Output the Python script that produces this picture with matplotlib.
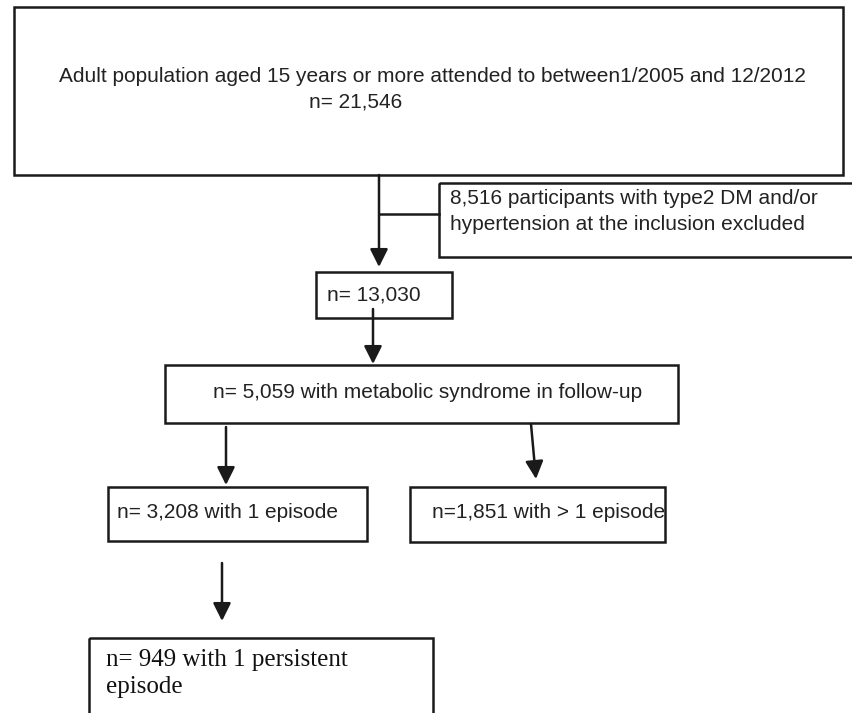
import matplotlib
matplotlib.use('Agg')
import matplotlib.pyplot as plt
from matplotlib.patches import Rectangle

# Box texts (flow of participants)
top_lines = ["Adult population aged 15 years or more attended to between1/2005 and 12/2012",
             "n= 21,546"]
excluded_lines = ["8,516 participants with type2 DM and/or",
                  "hypertension at the inclusion excluded"]
eligible_label = "n= 13,030"
metsyn_label = "n= 5,059 with metabolic syndrome in follow-up"
one_episode_label = "n= 3,208 with 1 episode"
multi_episode_label = "n=1,851 with > 1 episode"
persistent_lines = ["n= 949 with 1 persistent", "episode"]

# Layout in pixel coordinates (x0, y0, x1, y1), y grows downwards
boxes = [(14, 7, 843, 175), (439, 183, 856, 257), (316, 272, 452, 318),
         (165, 365, 678, 423), (108, 487, 367, 541), (410, 487, 665, 542),
         (89, 638, 433, 716)]
arrows = [((379, 175), (379, 267)), ((373, 309), (373, 364)),
          ((226, 427), (226, 485)), ((531, 424), (536, 479)),
          ((222, 563), (222, 621))]

W, H = 853, 713
fig = plt.figure(figsize=(W / 100, H / 100), dpi=100)
ax = fig.add_axes([0, 0, 1, 1])
ax.set_xlim(0, W)
ax.set_ylim(H, 0)
ax.axis('off')

edge = '#1a1a1a'
for x0, y0, x1, y1 in boxes:
    ax.add_patch(Rectangle((x0, y0), x1 - x0, y1 - y0, fill=False,
                           edgecolor=edge, linewidth=1.8))

for (xa, ya), (xb, yb) in arrows:
    ax.annotate('', xy=(xb, yb), xytext=(xa, ya),
                arrowprops=dict(arrowstyle='-|>,head_length=0.9,head_width=0.45',
                                color=edge, lw=1.8, mutation_scale=12,
                                shrinkA=0, shrinkB=0))
# side branch to the exclusion box
ax.plot([379, 439], [214, 214], color=edge, lw=1.8)

sans = dict(family='Liberation Sans', color='#222222', va='center')
serif = dict(family='Liberation Serif', color='#111111', va='center')
fs = 15

ax.text(432, 77, top_lines[0], ha='center', fontsize=fs, **sans)
ax.text(309, 102, top_lines[1], ha='left', fontsize=fs, **sans)
ax.text(450, 199, excluded_lines[0], ha='left', fontsize=fs, **sans)
ax.text(450, 224, excluded_lines[1], ha='left', fontsize=fs, **sans)
ax.text(327, 295, eligible_label, ha='left', fontsize=fs, **sans)
ax.text(213, 392, metsyn_label, ha='left', fontsize=fs, **sans)
ax.text(117, 513, one_episode_label, ha='left', fontsize=fs, **sans)
ax.text(432, 512, multi_episode_label, ha='left', fontsize=fs, **sans)
ax.text(106, 660, persistent_lines[0], ha='left', fontsize=18, **serif)
ax.text(106, 687, persistent_lines[1], ha='left', fontsize=18, **serif)

fig.savefig('out.png', dpi=100, facecolor='white')
